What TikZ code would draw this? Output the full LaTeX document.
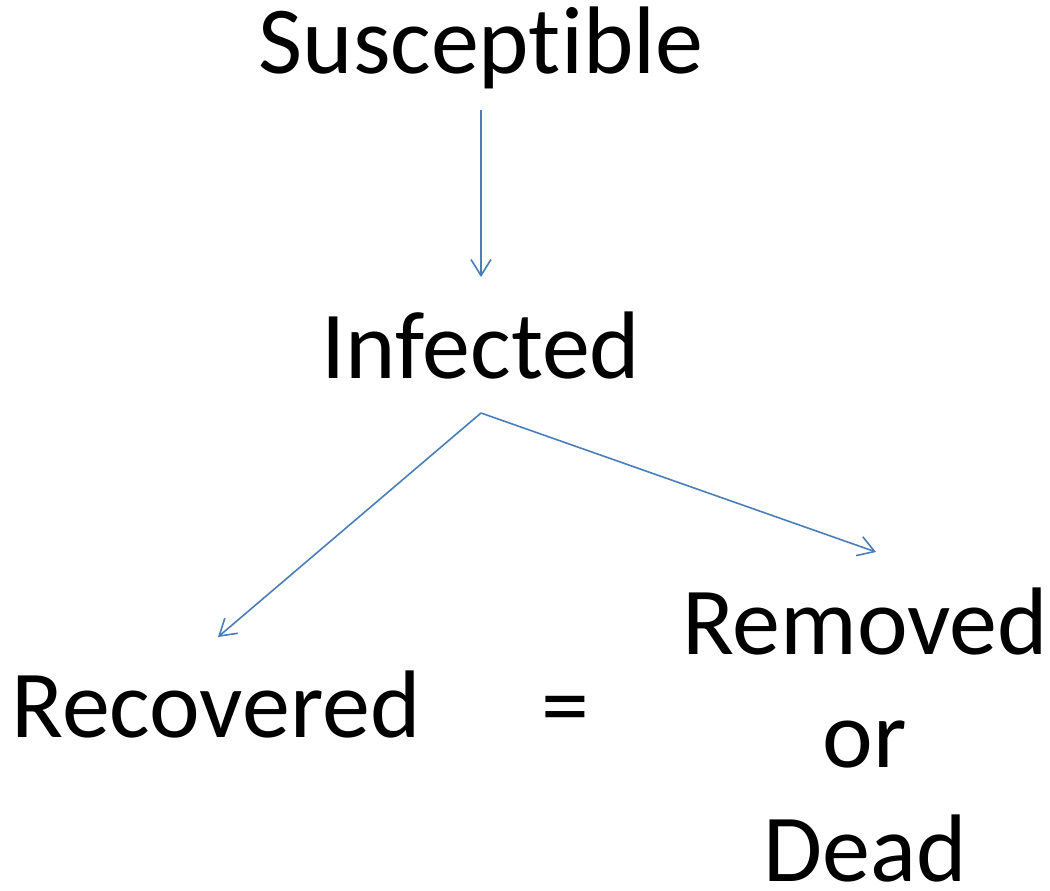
\documentclass[tikz,border=0pt]{standalone}
\usepackage{fontspec}
\setmainfont{Carlito}[Ligatures={NoCommon}]
\usetikzlibrary{arrows.meta, positioning}
\definecolor{flowblue}{HTML}{4A7EBB}
\tikzset{
  stagelabel/.style={inner sep=0pt, anchor=base, align=center,
                     font=\fontsize{72}{85}\selectfont},
  flowarrow/.style={-{Straight Barb[length=12pt, width=15pt]}, line width=1.2pt, flowblue},
}

\begin{document}
\begin{tikzpicture}[x=0.75pt, y=-0.75pt]
  \useasboundingbox (0,0) rectangle (1050,890);

  \node[stagelabel] (sus) at (481, 73) {Susceptible};
  \node[stagelabel] (inf) at (481, 378) {Infected};
  \node[stagelabel] (rec) at (216, 737) {Recovered};
  \node[stagelabel] (eq) at (565, 737) {=};
  % base of a multi-line node is its last line
  \node[stagelabel] (rem) at (865, 881) {Removed\\or\\Dead};

  \draw[flowarrow] ([yshift=-27.75pt]sus.base) -- ([yshift=75.75pt]inf.base);
  \draw[flowarrow] ([yshift=-26.25pt]inf.base) -- ([xshift=1.5pt, yshift=75pt]rec.base);
  \draw[flowarrow] ([yshift=-26.25pt]inf.base) -- ([xshift=8.25pt, yshift=246.75pt]rem.base);
\end{tikzpicture}
\end{document}
